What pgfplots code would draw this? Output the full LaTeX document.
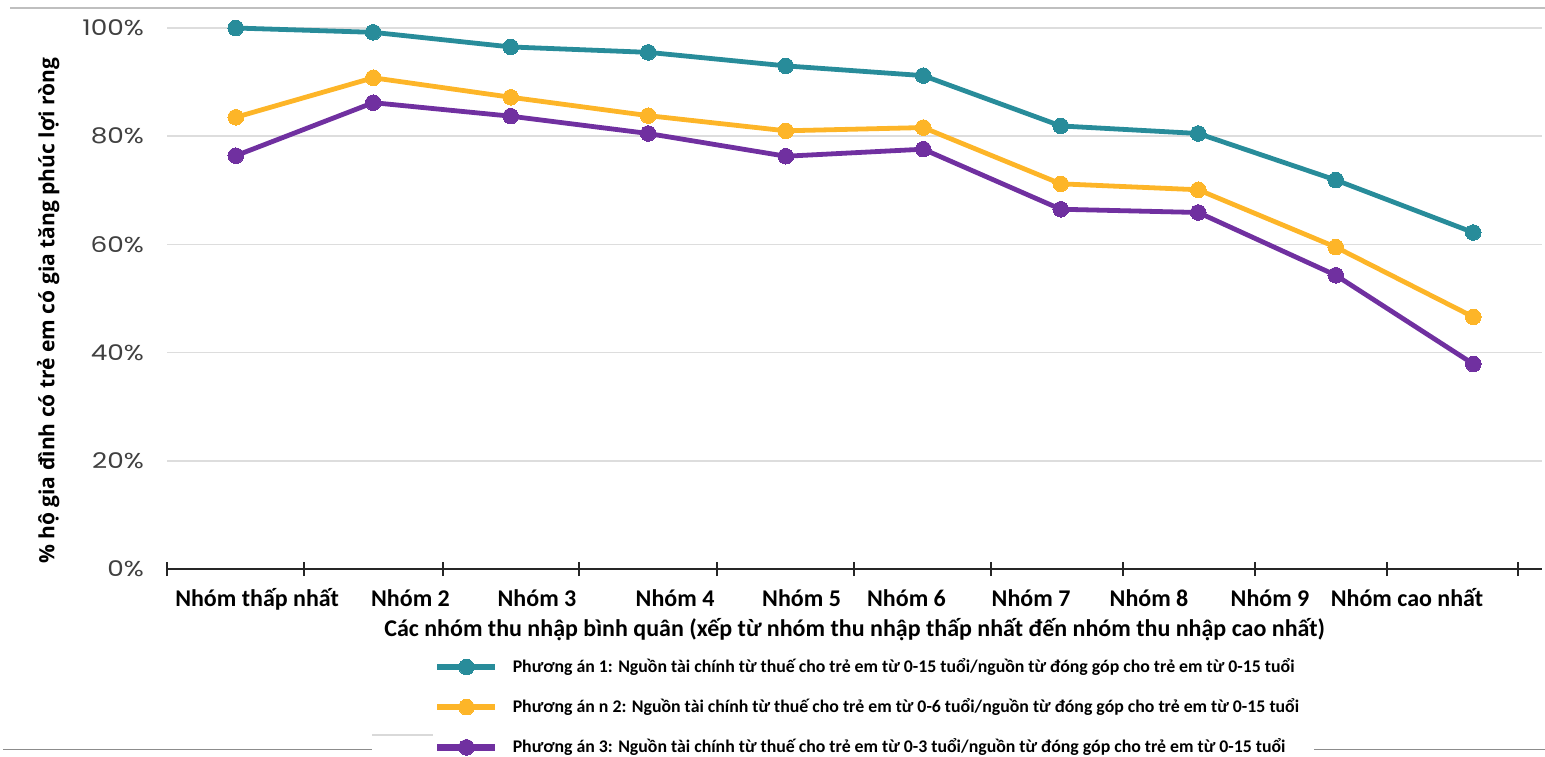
\documentclass[border=0pt]{standalone}
\usepackage{graphicx}
\usepackage{pgfplots}
\pgfplotsset{compat=1.18}
\usepackage{fontspec}
\setmainfont{Carlito}
\newfontfamily\poppins{Poppins}
\newfontfamily\opensans{Open Sans}
\definecolor{teal1}{HTML}{288C9A}
\definecolor{gold1}{HTML}{FDB528}
\definecolor{purp1}{HTML}{7030A0}
\definecolor{gridc}{HTML}{DDDDDD}
\definecolor{ticktxt}{HTML}{404040}
\begin{document}
\begin{tikzpicture}[x=1pt,y=1pt]
\useasboundingbox (0,0) rectangle (772.5,-378);
\draw[black!25, line width=0.7pt] (5,-4) -- (772.5,-4);
\draw[black!45, line width=0.5pt] (1.5,-374.5) -- (186,-374.5);
\draw[black!15, line width=0.8pt] (186,-367.5) -- (216.5,-367.5);
\draw[black!45, line width=0.5pt] (657,-374.5) -- (772.5,-374.5);
\begin{axis}[
 at={(83.5pt,-284.5pt)}, anchor=south west,
 scale only axis, width=687.5pt, height=270.5pt,
 xmin=0, xmax=10, ymin=0, ymax=100,
 axis x line*=bottom, axis y line*=left,
 y axis line style={draw=none},
 x axis line style={line width=0.8pt, black!85},
 ytick={0,20,40,60,80,100},
 yticklabel={\scalebox{1.22}[1]{\pgfmathprintnumber{\tick}\%}},
 yticklabel style={font=\poppins\fontsize{10.8}{12}\selectfont, text=ticktxt, /pgf/number format/assume math mode=true, xshift=-8pt},
 ytick style={draw=none},
 ymajorgrids=true,
 grid style={gridc, line width=0.8pt},
 xtick={0.655,1.771,2.691,3.695,4.615,5.378,6.284,7.142,8.022,9.018},
 xticklabels={Nhóm thấp nhất, Nhóm 2, Nhóm 3, Nhóm 4, Nhóm 5, Nhóm 6, Nhóm 7, Nhóm 8, Nhóm 9, Nhóm cao nhất},
 major x tick style={draw=none},
 major tick length=0pt,
 minor xtick={0,0.996,2.007,2.996,4,4.996,5.993,6.953,7.913,8.873,9.826},
 minor x tick style={black!85, line width=0.8pt},
 minor tick length=7pt, tick align=center,
 xticklabel style={font=\bfseries\fontsize{12}{13}\selectfont, anchor=base, yshift=-18.8pt},
 xlabel={Các nhóm thu nhập bình quân (xếp từ nhóm thu nhập thấp nhất đến nhóm thu nhập cao nhất)},
 xlabel style={font=\bfseries\fontsize{12}{13}\selectfont, at={(axis description cs:0.5,-0.1128)}, anchor=center},
 ylabel={\% hộ gia đình có trẻ em có gia tăng phúc lợi ròng},
 ylabel style={font=\opensans\bfseries\fontsize{10.5}{12}\selectfont, at={(axis description cs:-0.0865,0.477)}, anchor=center},
 clip=false,
 legend style={at={(axis description cs:0.194,-0.161)}, anchor=north west, draw=none, fill=none, inner sep=0pt,
   font=\bfseries\fontsize{8.9}{10.5}\selectfont, row sep=9.6pt, cells={anchor=west},
   nodes={inner sep=1pt},
   /tikz/every odd column/.append style={column sep=6pt}},
 legend cell align=left,
 legend image code/.code={\draw[#1, line width=3.3pt, mark repeat=2, mark phase=2] plot coordinates {(0pt,0pt) (14.5pt,0pt) (29pt,0pt)};},
]
\addplot[teal1, line width=2.4pt, mark=*, mark size=3.9pt, mark options={line width=0pt}] coordinates {
(0.5,100) (1.5,99.2) (2.5,96.5) (3.5,95.5) (4.5,93.0) (5.5,91.2) (6.5,81.9) (7.5,80.5) (8.5,71.9) (9.5,62.2)};
\addlegendentry{Phương án 1: Nguồn tài chính từ thuế cho trẻ em từ 0-15 tuổi/nguồn từ đóng góp cho trẻ em từ 0-15 tuổi}
\addplot[gold1, line width=2.4pt, mark=*, mark size=3.9pt, mark options={line width=0pt}] coordinates {
(0.5,83.5) (1.5,90.8) (2.5,87.2) (3.5,83.8) (4.5,81.0) (5.5,81.6) (6.5,71.2) (7.5,70.1) (8.5,59.5) (9.5,46.6)};
\addlegendentry{Phương án n 2: Nguồn tài chính từ thuế cho trẻ em từ 0-6 tuổi/nguồn từ đóng góp cho trẻ em từ 0-15 tuổi}
\addplot[purp1, line width=2.4pt, mark=*, mark size=3.9pt, mark options={line width=0pt}] coordinates {
(0.5,76.4) (1.5,86.2) (2.5,83.7) (3.5,80.5) (4.5,76.3) (5.5,77.6) (6.5,66.5) (7.5,65.9) (8.5,54.3) (9.5,37.9)};
\addlegendentry{Phương án 3: Nguồn tài chính từ thuế cho trẻ em từ 0-3 tuổi/nguồn từ đóng góp cho trẻ em từ 0-15 tuổi}
\end{axis}
\end{tikzpicture}
\end{document}
